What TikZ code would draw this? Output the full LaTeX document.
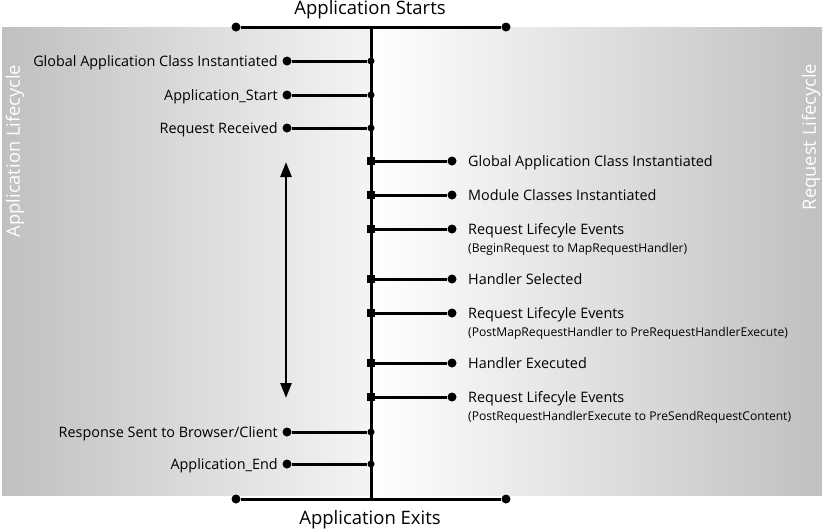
\documentclass[tikz,border=0pt]{standalone}
\usepackage{fontspec}
\setmainfont{Open Sans}
\usetikzlibrary{arrows.meta,shapes.geometric}
\definecolor{bgdark}{HTML}{C0C0C0}
\definecolor{bglight}{HTML}{F4F4F4}
\tikzset{
  ln/.style={line width=3pt},
  bigdot/.style={circle,fill=black,inner sep=0pt,minimum size=9pt},
  smalldot/.style={circle,fill=black,inner sep=0pt,minimum size=7pt},
  sq/.style={rectangle,fill=black,inner sep=0pt,minimum size=7.5pt},
  lbl/.style={font=\fontsize{14.4}{16}\selectfont,inner sep=0pt},
  sublbl/.style={font=\fontsize{12.1}{13}\selectfont,inner sep=0pt},
  ttl/.style={font=\fontsize{18.5}{20}\selectfont,inner sep=0pt},
  side/.style={font=\fontsize{18.3}{20}\selectfont,text=white,inner sep=0pt,rotate=90}
}
\begin{document}
\begin{tikzpicture}[x=1pt,y=-1pt]
\useasboundingbox (0,0) rectangle (825,531);
% background
\shade[left color=bgdark,right color=bglight] (2,27) rectangle (371,495);
\shade[left color=white,right color=bgdark] (371,27) rectangle (822,495);
% side labels
\node[side] (al) at (15,151) {Application Lifecycle};
\node[side] (rl) at (811,137) {Request Lifecycle};
% titles
\node[ttl] (ts) at (370,10) {Application Starts};
\node[ttl] (te) at (370,520) {Application Exits};
% main axis
\node[bigdot] (tl) at (236,27) {};
\node[bigdot] (tr) at (506,27) {};
\node[bigdot] (bl) at (236,499) {};
\node[bigdot] (br) at (506,499) {};
\coordinate (vt) at (371,27);
\coordinate (vb) at (371,499);
\draw[ln] (tl) -- (tr);
\draw[ln] (bl) -- (br);
\draw[ln] (vt) -- (vb);
% left items
\foreach \n/\y/\t in {l1/61/{Global Application Class Instantiated},
                       l2/95/{Application\_Start},
                       l3/128/{Request Received},
                       l4/432/{Response Sent to Browser/Client},
                       l5/464/{Application\_End}}{
  \node[bigdot] (\n d) at (287,\y) {};
  \node[smalldot] (\n j) at (371,\y) {};
  \draw[ln] (\n d) -- (\n j);
  \node[lbl,anchor=base east] (\n t) at (278,\y+5.5) {\t};
}
% right items
\foreach \n/\y/\t in {r1/161/{Global Application Class Instantiated},
                       r2/195/{Module Classes Instantiated},
                       r3/229/{Request Lifecyle Events},
                       r4/279/{Handler Selected},
                       r5/313/{Request Lifecyle Events},
                       r6/363/{Handler Executed},
                       r7/397/{Request Lifecyle Events}}{
  \node[sq] (\n j) at (371,\y) {};
  \node[bigdot] (\n d) at (452,\y) {};
  \draw[ln] (\n j) -- (\n d);
  \node[lbl,anchor=base west] (\n t) at (468,\y+5.5) {\t};
}
\node[sublbl,anchor=base west] (s3) at (468,252.5) {(BeginRequest to MapRequestHandler)};
\node[sublbl,anchor=base west] (s5) at (468,336.5) {(PostMapRequestHandler to PreRequestHandlerExecute)};
\node[sublbl,anchor=base west] (s7) at (468,420.5) {(PostRequestHandlerExecute to PreSendRequestContent)};
% double arrow
\coordinate (at) at (286,162);
\coordinate (ab) at (286,398);
\draw[line width=2.6pt,{Triangle[width=11pt,length=15pt]}-{Triangle[width=11pt,length=15pt]}] (at) -- (ab);
\end{tikzpicture}
\end{document}
